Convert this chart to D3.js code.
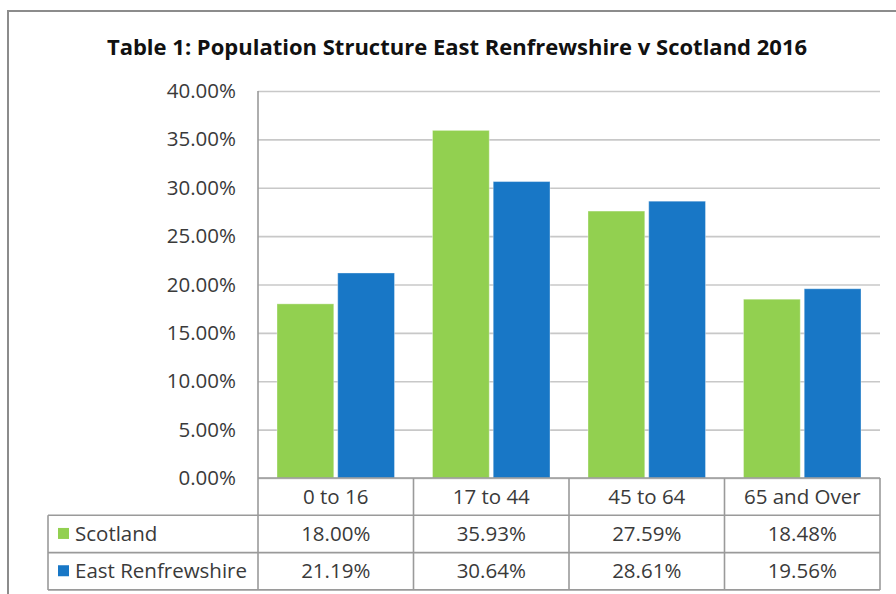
<!DOCTYPE html>
<html>
<head>
<meta charset="utf-8">
<script src="https://cdn.jsdelivr.net/npm/d3@7"></script>
<style>
  html, body { margin: 0; padding: 0; background: #fff; }
  svg { display: block; }
  text { font-family: "Open Sans", "Noto Sans", sans-serif; fill: #3a3a3a; }
</style>
</head>
<body>
<svg id="chart" width="896" height="594"></svg>
<script>
// Population share by age band, 2016
const categories = ["0 to 16", "17 to 44", "45 to 64", "65 and Over"];
const seriesNames = ["Scotland", "East Renfrewshire"];
const scotland = [18.00, 35.93, 27.59, 18.48];
const eastRenfrewshire = [21.19, 30.64, 28.61, 19.56];
const yTicks = [0, 5, 10, 15, 20, 25, 30, 35, 40];
const colors = ["#92D050", "#1877C6"];

const seriesValues = [scotland, eastRenfrewshire];

const svg = d3.select("#chart");
const W = 896, H = 594;
const labelSize = "20.5px";

// plot geometry
const plot = { left: 258, right: 880, top: 91, bottom: 478 };
const table = { left: 48, rowH: 37.3 };
const gridColor = "#c8c8c8";
const borderColor = "#9a9a9a";

// outer chart frame
svg.append("rect")
  .attr("x", 8).attr("y", 11)
  .attr("width", W + 20).attr("height", H + 20)
  .attr("fill", "none").attr("stroke", "#8c8c8c").attr("stroke-width", 2);

// title
svg.append("text")
  .attr("x", 457).attr("y", 55)
  .attr("text-anchor", "middle")
  .style("font-weight", "bold")
  .style("font-size", "22px")
  .style("fill", "#111")
  .text("Table 1: Population Structure East Renfrewshire v Scotland 2016");

const y = d3.scaleLinear().domain([0, 40]).range([plot.bottom, plot.top]);
const x0 = d3.scaleBand().domain(categories).range([plot.left, plot.right]).padding(0);
const groupPad = 19;
const x1 = d3.scaleBand().domain(seriesNames)
  .range([groupPad, x0.bandwidth() - groupPad]).paddingInner(0.065);

// gridlines + y axis labels
const yAxis = d3.axisLeft(y)
  .tickValues(yTicks)
  .tickSize(-(plot.right - plot.left))
  .tickPadding(22)
  .tickFormat(d => d3.format(".2f")(d) + "%");

const gy = svg.append("g")
  .attr("transform", `translate(${plot.left},0)`)
  .call(yAxis);
gy.select(".domain").remove();
gy.selectAll(".tick line").attr("stroke", gridColor).attr("stroke-width", 1.6);
gy.selectAll(".tick text")
  .style("font-size", labelSize)
  .style("fill", "#3a3a3a")
  .attr("font-family", null);

// left plot edge
svg.append("line")
  .attr("x1", plot.left).attr("x2", plot.left)
  .attr("y1", plot.top).attr("y2", plot.bottom + 3 * table.rowH - 1)
  .attr("stroke", borderColor).attr("stroke-width", 1.6);

// bars
const groups = svg.append("g").selectAll("g")
  .data(categories)
  .join("g")
  .attr("transform", d => `translate(${x0(d)},0)`);

groups.selectAll("rect")
  .data((d, i) => seriesNames.map((s, k) => ({ s, k, v: seriesValues[k][i] })))
  .join("rect")
  .attr("x", d => x1(d.s))
  .attr("width", x1.bandwidth())
  .attr("y", d => y(d.v))
  .attr("height", d => y(0) - y(d.v))
  .attr("fill", d => colors[d.k])
  .attr("stroke", "#ffffff")
  .attr("stroke-opacity", 0.35)
  .attr("stroke-width", 1);

// data table below the plot
const rowTop = r => plot.bottom + r * table.rowH;
const tableBottom = rowTop(3);
const tg = svg.append("g");

// horizontal rules
tg.append("line").attr("x1", plot.left).attr("x2", plot.right)
  .attr("y1", plot.bottom).attr("y2", plot.bottom)
  .attr("stroke", borderColor).attr("stroke-width", 1.6);
[1, 2, 3].forEach(r => {
  tg.append("line").attr("x1", table.left).attr("x2", plot.right)
    .attr("y1", rowTop(r)).attr("y2", rowTop(r))
    .attr("stroke", borderColor).attr("stroke-width", 1.6);
});
// vertical rules
tg.append("line").attr("x1", table.left).attr("x2", table.left)
  .attr("y1", rowTop(1)).attr("y2", tableBottom)
  .attr("stroke", borderColor).attr("stroke-width", 1.6);
categories.forEach((c, i) => {
  const xr = x0(c) + x0.bandwidth();
  tg.append("line").attr("x1", xr).attr("x2", xr)
    .attr("y1", plot.bottom).attr("y2", tableBottom)
    .attr("stroke", borderColor).attr("stroke-width", 1.6);
});

// category header
tg.selectAll("text.cat")
  .data(categories)
  .join("text")
  .attr("class", "cat")
  .attr("x", d => x0(d) + x0.bandwidth() / 2)
  .attr("y", rowTop(0) + table.rowH / 2)
  .attr("dy", "0.35em")
  .attr("text-anchor", "middle")
  .style("font-size", labelSize)
  .text(d => d);

// series rows
seriesNames.forEach((s, k) => {
  const cy = rowTop(k + 1) + table.rowH / 2;
  tg.append("rect")
    .attr("x", 58).attr("y", cy - 6)
    .attr("width", 11).attr("height", 11)
    .attr("fill", colors[k]);
  tg.append("text")
    .attr("x", 75).attr("y", cy)
    .attr("dy", "0.35em")
    .style("font-size", labelSize)
    .text(s);
  tg.selectAll(null)
    .data(seriesValues[k])
    .join("text")
    .attr("x", (d, i) => x0(categories[i]) + x0.bandwidth() / 2)
    .attr("y", cy)
    .attr("dy", "0.35em")
    .attr("text-anchor", "middle")
    .style("font-size", labelSize)
    .text(d => d3.format(".2f")(d) + "%");
});
</script>
</body>
</html>
